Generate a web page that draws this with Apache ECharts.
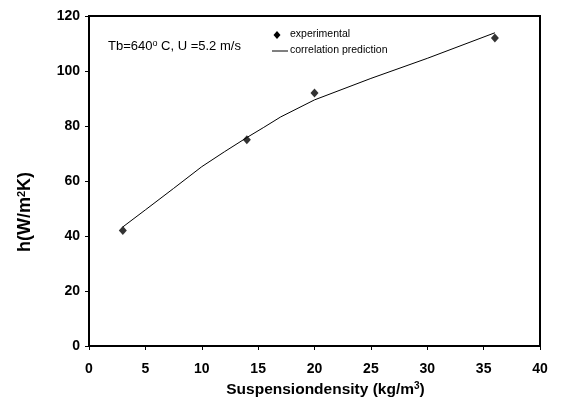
<!DOCTYPE html>
<html><head><meta charset="utf-8">
<script src="https://cdn.jsdelivr.net/npm/echarts@6/dist/echarts.min.js"></script>
<style>html,body{margin:0;padding:0;background:#fff}#c{width:561px;height:398px}</style>
</head><body><div id="c"></div>
<script>
const expX = [3, 14, 20, 36];
const expY = [42, 75, 92, 112];
const corrX = [3, 5, 7.5, 10, 12, 14, 15.5, 17, 20, 25, 30, 36];
const corrY = [43.3, 49.5, 57.3, 65.2, 70.6, 75.8, 79.5, 83.3, 89.5, 97.3, 104.6, 113.9];
const xTicks = [0, 5, 10, 15, 20, 25, 30, 35, 40];
const yTicks = [0, 20, 40, 60, 80, 100, 120];
const seriesNames = ['experimental', 'correlation prediction'];

const F = '"Liberation Sans", Arial, sans-serif';
const chart = echarts.init(document.getElementById('c'));
chart.setOption({
  animation: false,
  backgroundColor: '#fff',
  grid: {left: 89, right: 21, top: 16, bottom: 52, show: true, borderColor: '#000', borderWidth: 2,
         containLabel: false, outerBoundsMode: 'none'},
  xAxis: {
    type: 'value', min: xTicks[0], max: xTicks[xTicks.length-1], interval: 5,
    splitLine: {show: false},
    axisLine: {lineStyle: {color: '#000', width: 2}},
    axisTick: {show: true, length: 4, lineStyle: {color: '#000', width: 1}},
    axisLabel: {color: '#000', fontFamily: F, fontWeight: 'bold', fontSize: 14, margin: 16},
    name: 'Suspensiondensity (kg/m{s|3})', nameLocation: 'middle', nameGap: 33,
    nameTextStyle: {color: '#000', fontFamily: F, fontWeight: 'bold', fontSize: 15.5, padding: [0,0,0,22],
      rich: {s: {fontSize: 10, fontWeight: 'bold', fontFamily: F, verticalAlign: 'top', padding: [0,0,7,0]}}}
  },
  yAxis: {
    type: 'value', min: yTicks[0], max: yTicks[yTicks.length-1], interval: 20,
    splitLine: {show: false},
    axisLine: {lineStyle: {color: '#000', width: 2}},
    axisTick: {show: true, length: 4, lineStyle: {color: '#000', width: 1}},
    axisLabel: {color: '#000', fontFamily: F, fontWeight: 'bold', fontSize: 14, margin: 9},
    name: 'h(W/m{s|2}K)', nameLocation: 'middle', nameGap: 54,
    nameTextStyle: {color: '#000', fontFamily: F, fontWeight: 'bold', fontSize: 18, padding: [0,62,0,0],
      rich: {s: {fontSize: 11, fontWeight: 'bold', fontFamily: F, verticalAlign: 'top', padding: [0,0,8,0]}}}
  },
  series: [
    {name: seriesNames[1], type: 'line', data: corrX.map((x,i)=>[x, corrY[i]]),
     showSymbol: false, symbol: 'none', lineStyle: {color: '#000', width: 1}, z: 2},
    {name: seriesNames[0], type: 'scatter', data: expX.map((x,i)=>[x, expY[i]]),
     symbol: 'diamond', symbolSize: [8, 9], itemStyle: {color: '#000'}, z: 3}
  ],
  graphic: [
    {type: 'text', left: 108, top: 39, style: {
      text: 'Tb=640{s|o} C, U =5.2 m/s', font: '13px ' + F, fill: '#000',
      rich: {s: {fontSize: 9, fontFamily: F, verticalAlign: 'top', padding: [0,0,5,0]}}}},
    {type: 'polygon', shape: {points: [[277,31],[280.5,35],[277,39],[273.5,35]]}, style: {fill: '#000'}},
    {type: 'text', left: 290, top: 29, style: {text: seriesNames[0], font: '10.5px ' + F, fill: '#000'}},
    {type: 'line', shape: {x1: 272, y1: 51, x2: 288, y2: 51}, style: {stroke: '#000', lineWidth: 1}},
    {type: 'text', left: 290, top: 45, style: {text: seriesNames[1], font: '10.5px ' + F, fill: '#000'}}
  ]
});
</script></body></html>
